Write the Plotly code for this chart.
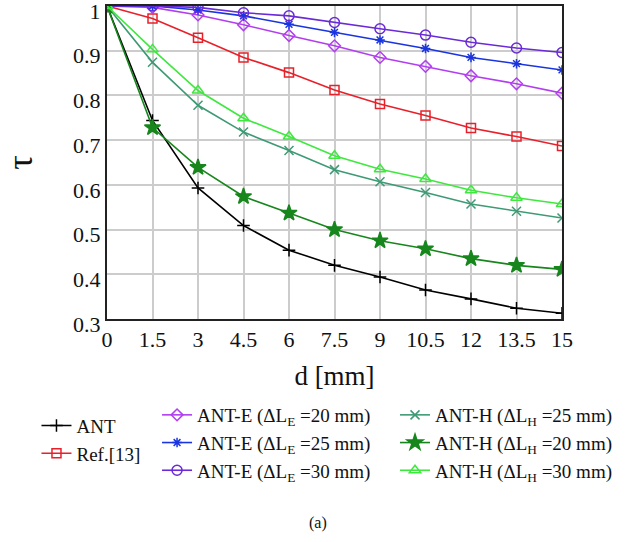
import plotly.graph_objects as go

d = [0, 1.5, 3, 4.5, 6, 7.5, 9, 10.5, 12, 13.5, 15]
ant = [1.0, 0.744, 0.593, 0.509, 0.454, 0.420, 0.394, 0.365, 0.345, 0.324, 0.313]
ref13 = [1.0, 0.972, 0.929, 0.885, 0.851, 0.812, 0.781, 0.755, 0.727, 0.708, 0.687]
ant_e20 = [1.0, 0.997, 0.980, 0.958, 0.934, 0.911, 0.885, 0.865, 0.844, 0.826, 0.805]
ant_e25 = [1.0, 1.0, 0.991, 0.978, 0.959, 0.941, 0.924, 0.905, 0.885, 0.871, 0.857]
ant_e30 = [1.0, 1.0, 0.997, 0.985, 0.978, 0.963, 0.949, 0.935, 0.919, 0.906, 0.896]
ant_h25 = [1.0, 0.874, 0.778, 0.718, 0.677, 0.634, 0.607, 0.583, 0.557, 0.541, 0.526]
ant_h20 = [1.0, 0.728, 0.639, 0.574, 0.537, 0.500, 0.475, 0.457, 0.435, 0.420, 0.411]
ant_h30 = [1.0, 0.903, 0.811, 0.749, 0.708, 0.665, 0.635, 0.613, 0.588, 0.571, 0.557]

x_ticks = [0, 1.5, 3, 4.5, 6, 7.5, 9, 10.5, 12, 13.5, 15]
x_tick_labels = ["0", "1.5", "3", "4.5", "6", "7.5", "9", "10.5", "12", "13.5", "15"]
y_ticks = [0.3, 0.4, 0.5, 0.6, 0.7, 0.8, 0.9, 1.0]
y_tick_labels = ["0.3", "0.4", "0.5", "0.6", "0.7", "0.8", "0.9", "1"]

FONT = "Liberation Serif"

series = [
    ("ANT", ant, "#000000", "cross-thin", 9, "legend"),
    ("Ref.[13]", ref13, "#e8202a", "square-open", 9, "legend"),
    ("ANT-E (ΔL<sub>E</sub> =20 mm)", ant_e20, "#b23ef0", "diamond-open", 9, "legend2"),
    ("ANT-E (ΔL<sub>E</sub> =25 mm)", ant_e25, "#1a34e0", "asterisk-open", 8, "legend2"),
    ("ANT-E (ΔL<sub>E</sub> =30 mm)", ant_e30, "#6a2ad8", "circle-open", 10, "legend2"),
    ("ANT-H (ΔL<sub>H</sub> =25 mm)", ant_h25, "#3e9a74", "x-thin", 9, "legend3"),
    ("ANT-H (ΔL<sub>H</sub> =20 mm)", ant_h20, "#17861c", "star", 12, "legend3"),
    ("ANT-H (ΔL<sub>H</sub> =30 mm)", ant_h30, "#3fe83f", "triangle-up-open", 10, "legend3"),
]

fig = go.Figure()
for name, vals, color, sym, size, leg in series:
    fig.add_trace(go.Scatter(
        x=d, y=vals, name=name, mode="lines+markers",
        line=dict(color=color, width=1.6),
        marker=dict(symbol=sym, size=size, color=color,
                    line=dict(color=color, width=1.5)),
        legend=leg,
    ))

legend_common = dict(
    font=dict(family=FONT, size=19, color="#111"),
    bgcolor="rgba(0,0,0,0)", yanchor="top", xanchor="left",
    tracegroupgap=0, itemwidth=30,
)

fig.update_layout(
    width=634, height=542,
    margin=dict(l=107, r=72, t=6, b=223, autoexpand=False),
    paper_bgcolor="white", plot_bgcolor="white",
    font=dict(family=FONT, color="#111"),
    xaxis=dict(
        range=[0, 15], tickvals=x_ticks, ticktext=x_tick_labels,
        showgrid=True, gridcolor="#cccccc", gridwidth=1.5,
        showline=True, linecolor="#222", linewidth=2, mirror=True,
        ticks="", tickfont=dict(family=FONT, size=22),
        title=dict(text="d [mm]", font=dict(family=FONT, size=27)),
        zeroline=False,
    ),
    yaxis=dict(
        range=[0.3, 1.0], tickvals=y_ticks, ticktext=y_tick_labels,
        showgrid=True, gridcolor="#cccccc", gridwidth=1.5,
        showline=True, linecolor="#222", linewidth=2, mirror=True,
        ticks="", tickfont=dict(family=FONT, size=22),
        title=dict(text="τ", font=dict(family=FONT, size=36), standoff=34),
        zeroline=False, ticklabeloverflow="allow", ticklabelshift=5,
    ),
    legend=dict(x=-0.155, y=-0.28, **legend_common),
    legend2=dict(x=0.11, y=-0.246, **legend_common),
    legend3=dict(x=0.633, y=-0.246, **legend_common),
    annotations=[dict(text="(a)", x=0.464, y=-0.687, xref="paper", yref="paper",
                      showarrow=False, font=dict(family=FONT, size=16, color="#111"))],
)

fig.write_html("out.html", post_script="document.body.style.margin='0';",
               config={"displayModeBar": False})
